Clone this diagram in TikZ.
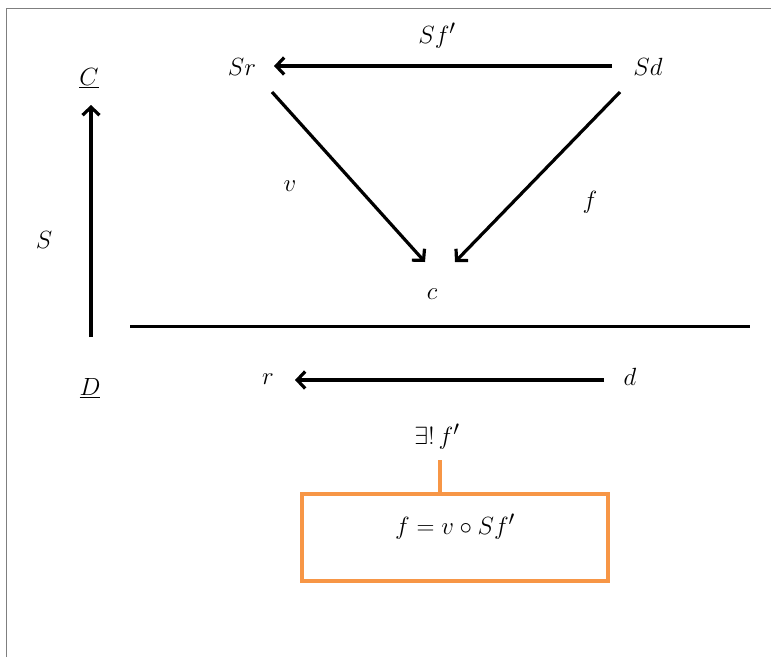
\documentclass[tikz,border=0pt]{standalone}
\usetikzlibrary{arrows.meta}
\definecolor{frameg}{HTML}{7F7F7F}
\definecolor{orng}{HTML}{F79646}
\begin{document}
\begin{tikzpicture}[x=1pt,y=-1pt,
  lbl/.style={inner sep=0pt,font=\fontsize{29}{33}\selectfont},
  arr/.style={line width=3.2pt,-{Straight Barb[length=8pt,width=17pt,line width=3.2pt]}},
  obox/.style={draw=orng,line width=3.2pt,minimum width=306pt,minimum height=87pt,inner sep=0pt}]
\useasboundingbox (0,0) rectangle (771,657);
% frame
\draw[frameg,line width=1.6pt] (6.5,657) -- (6.5,8.5) -- (771,8.5);
% nodes
\node[lbl] (Sr) at (242,67) {$Sr$};
\node[lbl] (Sd) at (648,67) {$Sd$};
\node[lbl] (c) at (432,294) {$c$};
\node[lbl] (r) at (268,379) {$r$};
\node[lbl] (d) at (630,377) {$d$};
\node[lbl] (Cc) at (89,78) {$\underline{C}$};
\node[lbl] (Dd) at (90,388) {$\underline{D}$};
\node[lbl] (Slab) at (44,240) {$S$};
\node[lbl] (Sflab) at (437,36) {$Sf'$};
\node[lbl] (vlab) at (290,186) {$v$};
\node[lbl] (flab) at (590,202) {$f$};
\node[lbl] (ex) at (437,437) {$\exists!\,f'$};
\node[obox] (box) at (455,537.5) {};
\node[lbl] (eq) at (455,527) {$f=v\circ Sf'$};
% connectors
\draw[arr] ([shift={(-36,-1)}]Sd.center) -- ([shift={(32,-1)}]Sr.center);
\draw[arr] ([shift={(30,25)}]Sr.center) -- ([shift={(-7,-32)}]c.center);
\draw[arr] ([shift={(-28,25)}]Sd.center) -- ([shift={(23,-32)}]c.center);
\draw[arr] ([shift={(1,-51)}]Dd.center) -- ([shift={(2,27)}]Cc.center);
\draw[arr] ([shift={(-26,3)}]d.center) -- ([shift={(27,1)}]r.center);
\draw[line width=3pt] (130,326) -- (750,326);
\draw[orng,line width=3.2pt] ([shift={(3,23)}]ex.center) -- ([xshift=-15pt]box.north);
\end{tikzpicture}
\end{document}
